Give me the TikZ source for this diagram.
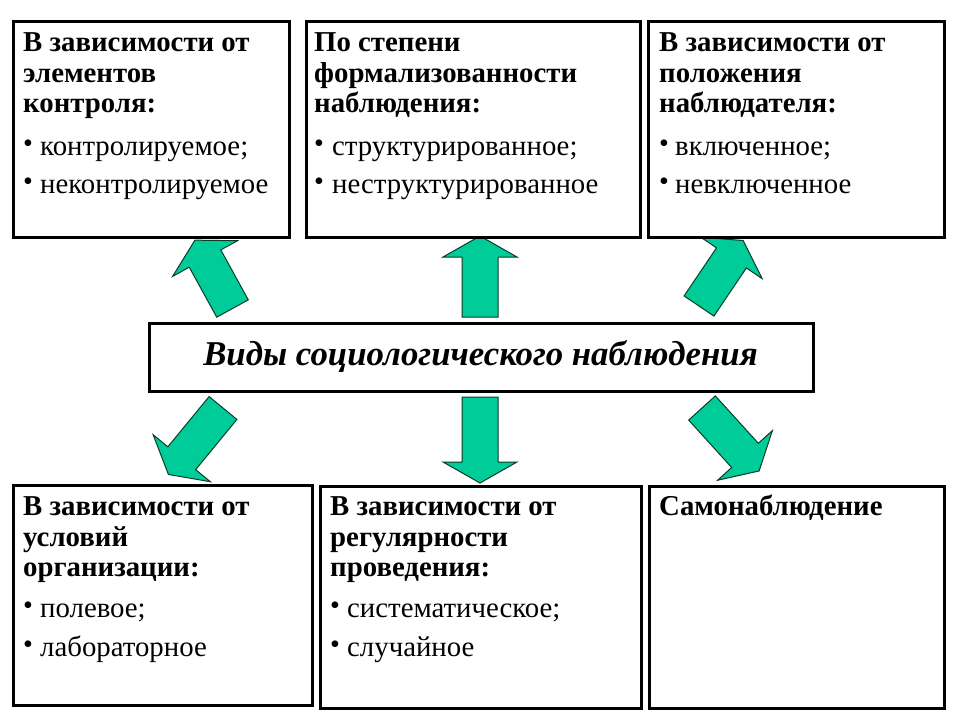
\documentclass[tikz,border=0pt]{standalone}
\usepackage{fontspec}
\setmainfont{Liberation Serif}
\definecolor{arrgreen}{RGB}{0,204,153}
\definecolor{arrline}{RGB}{10,60,40}
\newcommand\blockarrow[4]{%
  \begin{scope}[shift={(#1,#2)},rotate=#3]
    \filldraw[arr] (0,-18) -- ({#4-21},-18) -- ({#4-21},-37) -- (#4,0) -- ({#4-21},37) -- ({#4-21},18) -- (0,18) -- cycle;
  \end{scope}}
\begin{document}
\begin{tikzpicture}[x=1pt,y=-1pt,
  box/.style={draw=black,line width=3pt,fill=white,inner sep=0pt,anchor=north west},
  hd/.style={anchor=base west,inner sep=0pt,font=\fontsize{28.8}{29}\selectfont\bfseries},
  it/.style={anchor=base west,inner sep=0pt,font=\fontsize{28.8}{29}\selectfont},
  bul/.style={anchor=base west,inner sep=0pt,font=\fontsize{28}{28}\selectfont,yshift=3pt},
  arr/.style={fill=arrgreen,draw=arrline,line width=1pt,line join=miter}]
\useasboundingbox[fill=white] (0,0) rectangle (960,720);

% arrows
\blockarrow{480}{317}{90}{81}
\blockarrow{480}{397}{-90}{86}
\blockarrow{232.5}{308.5}{118.8}{78}
\blockarrow{699}{306}{56}{79}
\blockarrow{223}{408}{230.6}{86}
\blockarrow{702}{408}{-47.8}{85}

% boxes
\node[box,minimum width=276pt,minimum height=216pt] (b1) at (12,20) {};
\node[box,minimum width=334pt,minimum height=216pt] (b2) at (305,20) {};
\node[box,minimum width=296pt,minimum height=216pt] (b3) at (647,20) {};
\node[box,minimum width=664pt,minimum height=68pt] (c) at (148,322) {};
\node[box,minimum width=299pt,minimum height=220pt] (b4) at (12,484) {};
\node[box,minimum width=321pt,minimum height=222pt] (b5) at (319,485) {};
\node[box,minimum width=295pt,minimum height=222pt] (b6) at (648,485) {};

\node[inner sep=0pt,font=\fontsize{34.8}{35}\selectfont\bfseries\itshape] (ct) at (480.5,357) {Виды социологического наблюдения};

% box 1
\node[hd] (t1a) at (23,51) {В зависимости от};
\node[hd] (t1b) at (23,82) {элементов};
\node[hd] (t1c) at (23,112) {контроля:};
\node[bul] (p1a) at (23,155) {•};
\node[it] (t1d) at (40,155) {контролируемое;};
\node[bul] (p1b) at (23,193) {•};
\node[it] (t1e) at (40,193) {неконтролируемое};

% box 2
\node[hd] (t2a) at (314,51) {По степени};
\node[hd] (t2b) at (314,82) {формализованности};
\node[hd] (t2c) at (314,112) {наблюдения:};
\node[bul] (p2a) at (314,155) {•};
\node[it] (t2d) at (332,155) {структурированное;};
\node[bul] (p2b) at (314,193) {•};
\node[it] (t2e) at (332,193) {неструктурированное};

% box 3
\node[hd] (t3a) at (659,51) {В зависимости от};
\node[hd] (t3b) at (659,82) {положения};
\node[hd] (t3c) at (659,112) {наблюдателя:};
\node[bul] (p3a) at (659,155) {•};
\node[it] (t3d) at (675,155) {включенное;};
\node[bul] (p3b) at (659,193) {•};
\node[it] (t3e) at (675,193) {невключенное};

% box 4
\node[hd] (t4a) at (23,515) {В зависимости от};
\node[hd] (t4b) at (23,546) {условий};
\node[hd] (t4c) at (23,576) {организации:};
\node[bul] (p4a) at (23,617) {•};
\node[it] (t4d) at (40,617) {полевое;};
\node[bul] (p4b) at (23,656) {•};
\node[it] (t4e) at (40,656) {лабораторное};

% box 5
\node[hd] (t5a) at (330,515) {В зависимости от};
\node[hd] (t5b) at (330,546) {регулярности};
\node[hd] (t5c) at (330,576) {проведения:};
\node[bul] (p5a) at (330,617) {•};
\node[it] (t5d) at (347,617) {систематическое;};
\node[bul] (p5b) at (330,656) {•};
\node[it] (t5e) at (347,656) {случайное};

% box 6
\node[hd] (t6a) at (659,515) {Самонаблюдение};
\end{tikzpicture}
\end{document}
